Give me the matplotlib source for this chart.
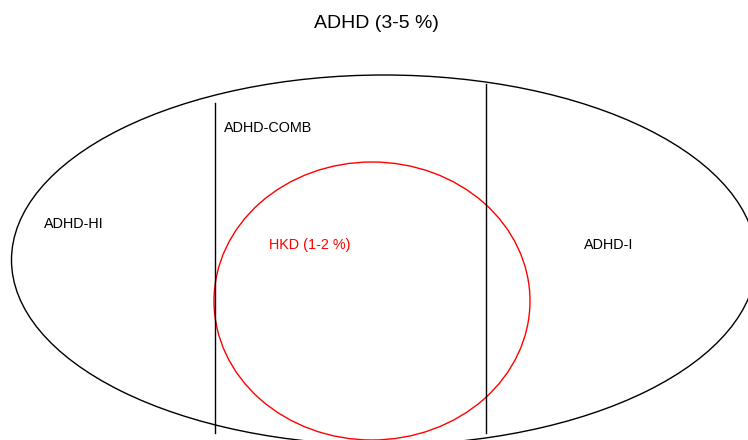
import matplotlib
matplotlib.use('Agg')
import matplotlib.pyplot as plt
from matplotlib.patches import Ellipse

plt.rcParams['font.family'] = ['Liberation Sans', 'DejaVu Sans']

# diagram geometry, in pixel units of the 748x440 canvas
title = 'ADHD (3-5 %)'
outer = dict(center=(384, 260), width=745, height=370)
hkd = dict(center=(372, 301), width=316, height=278)
dividers_x = [215, 486]
dividers_top = [103, 84]
dividers_bottom = [433, 433]

labels = ['ADHD-COMB', 'ADHD-HI', 'HKD (1-2 %)', 'ADHD-I']
label_x = [224, 44, 269, 584]
label_y = [128, 224, 245, 245]
label_colors = ['black', 'black', 'red', 'black']

fig = plt.figure(figsize=(7.48, 4.40), dpi=100)
ax = fig.add_axes([0, 0, 1, 1])
ax.set_xlim(0, 748)
ax.set_ylim(440, 0)
ax.axis('off')

ax.add_patch(Ellipse(outer['center'], outer['width'], outer['height'],
                     fill=False, edgecolor='black', lw=1))
ax.add_patch(Ellipse(hkd['center'], hkd['width'], hkd['height'],
                     fill=False, edgecolor='red', lw=1))
for x, y0, y1 in zip(dividers_x, dividers_top, dividers_bottom):
    ax.plot([x, x], [y0, y1], color='black', lw=1)

for t, x, y, c in zip(labels, label_x, label_y, label_colors):
    ax.text(x, y, t, color=c, fontsize=10.4, ha='left', va='center')

ax.text(376, 23, title, fontsize=14, ha='center', va='center')

fig.savefig('out.png', dpi=100)
